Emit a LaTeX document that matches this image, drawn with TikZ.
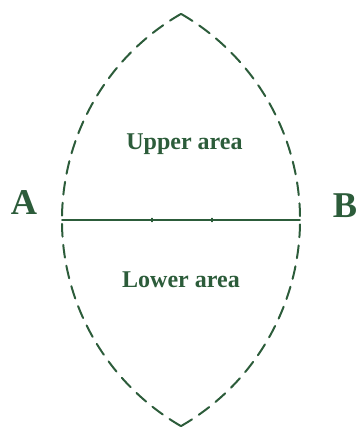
\documentclass[tikz,border=0pt]{standalone}
\usepackage{fontspec}
\setmainfont{Liberation Serif}
\definecolor{lensgreen}{RGB}{44,92,58}
\tikzset{
  lensarc/.style={lensgreen, line width=1.7pt, dash pattern=on 11pt off 7pt},
  chord/.style={lensgreen, line width=1.6pt},
  ptlabel/.style={lensgreen, font=\fontsize{31}{31}\selectfont\bfseries, anchor=base, inner sep=0pt},
  arealabel/.style={lensgreen, font=\fontsize{20.5}{20.5}\selectfont\bfseries, anchor=base, inner sep=0pt}
}
\begin{document}
\begin{tikzpicture}[x=0.03cm,y=0.03cm,line cap=round,line join=round]
\useasboundingbox (0,0) rectangle (356,431);
\coordinate (A) at (62,211);
\coordinate (B) at (300,211);
\coordinate (top) at (181,417.1);
\coordinate (bot) at (181,4.9);
% the two arcs of the lens
\draw[lensarc] (top) arc[start angle=120, end angle=240, radius=238];
\draw[lensarc] (bot) arc[start angle=-60, end angle=60, radius=238];
% chord with its marks
\draw[chord] (A) -- (B);
\foreach \x in {152,212}{
  \draw[chord, line width=1pt] (\x,209.3) -- (\x,212.7);
}
\node[ptlabel] (labA) at (24,216) {A};
\node[ptlabel] (labB) at (345,213) {B};
\node[arealabel] (upper) at (184.5,281) {Upper area};
\node[arealabel] (lower) at (181,143) {Lower area};
\end{tikzpicture}
\end{document}
